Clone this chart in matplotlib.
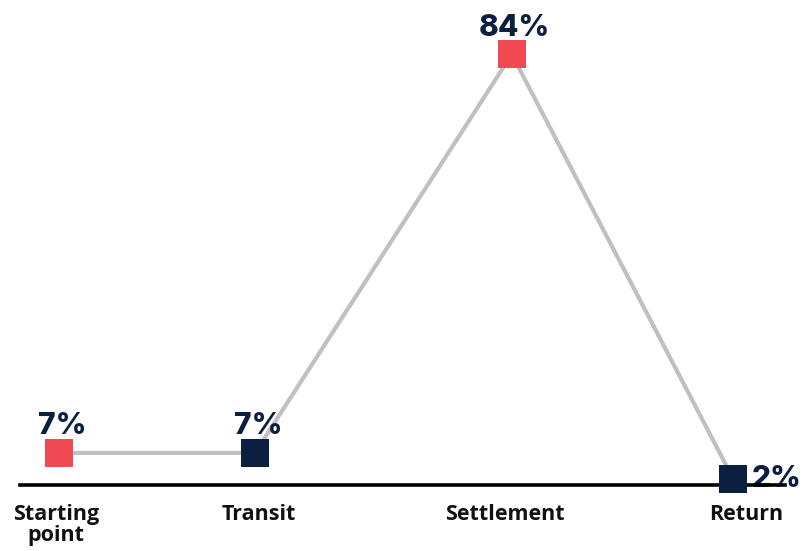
import matplotlib
import matplotlib.pyplot as plt

matplotlib.use('Agg')

# stages of the journey and the share for each stage
stages = ['Starting\npoint', 'Transit', 'Settlement', 'Return']
stage_pos = [0.0, 1.0, 2.31, 3.44]
shares = [7, 7, 84, 2]
marker_colors = ['#f04a55', '#0b1f40', '#f04a55', '#0b1f40']
# small horizontal shifts of the stage names, in points
name_shift = [-2, 3, -5, 9]

NAVY = '#0b1f40'
GREY = '#c0c0c0'

fig = plt.figure(figsize=(8.03, 5.51), dpi=100)
ax = fig.add_axes([20 / 803, 66 / 551, 765 / 803, 485 / 551])

# connecting line
ax.plot(stage_pos, shares, color=GREY, linewidth=3, zorder=2, clip_on=False)

# square markers
for x, v, c in zip(stage_pos, shares, marker_colors):
    ax.plot(x, v, marker='s', markersize=19.5, color=c, markeredgewidth=0,
            zorder=4, clip_on=False)

# value labels, last one sits to the right of its marker
for i, (x, v) in enumerate(zip(stage_pos, shares)):
    if i == len(shares) - 1:
        ax.annotate(f'{v}%', (x, v), xytext=(13, 0), textcoords='offset points',
                    ha='left', va='center', fontsize=21.5, fontweight='heavy',
                    color=NAVY, family='Inter')
    else:
        ax.annotate(f'{v}%', (x, v), xytext=(2, 9), textcoords='offset points',
                    ha='center', va='bottom', fontsize=21.5, fontweight='heavy',
                    color=NAVY, family='Inter')

# stage names under the baseline
for x, name, dx in zip(stage_pos, stages, name_shift):
    ax.annotate(name, (x, 0), xycoords=('data', 'axes fraction'),
                xytext=(dx, -14), textcoords='offset points',
                ha='center', va='top', fontsize=15.5, fontweight='bold',
                family='Open Sans', color='#111111', linespacing=0.95)

ax.set_xlim(-0.199, 3.704)
ax.set_ylim(0.8, 94.5)

for side in ['top', 'right', 'left']:
    ax.spines[side].set_visible(False)
ax.spines['bottom'].set_linewidth(2.6)
ax.spines['bottom'].set_color('black')
ax.spines['bottom'].set_zorder(3)

ax.set_yticks([])
ax.set_xticks([])

fig.savefig('out.png', dpi=100)
